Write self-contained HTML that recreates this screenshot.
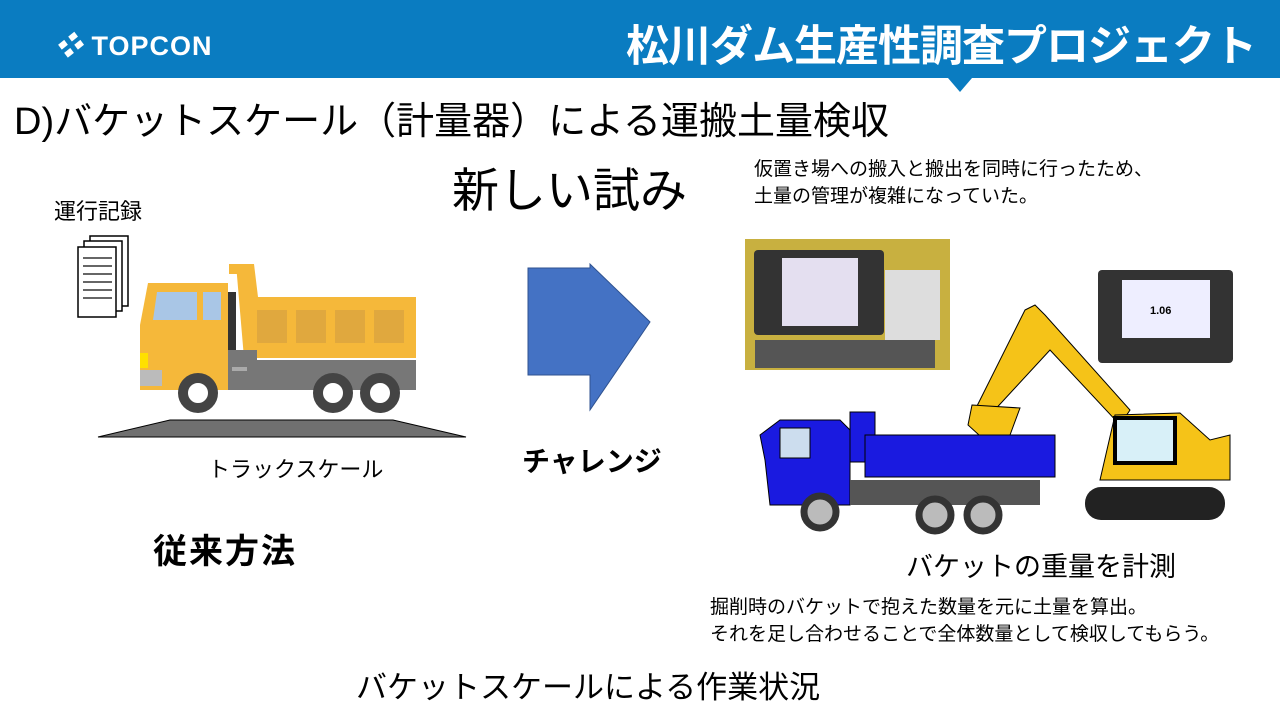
<!DOCTYPE html>
<html><head><meta charset="utf-8"><style>
body{margin:0;width:1280px;height:720px;overflow:hidden;background:#fff;position:relative;font-family:"Liberation Sans","Noto Sans CJK JP",sans-serif;color:#000}
.a{position:absolute;white-space:nowrap}
</style></head><body>
<div class="a" style="left:0;top:0;width:1280px;height:78px;background:#0a7cc1"></div>
<svg class="a" style="left:0;top:0" width="1280" height="100">
<polygon points="948,78 972,78 960,92" fill="#0a7cc1"/>
</svg>
<div class="a" style="left:55px;top:24px;color:#fff;font-size:27px;font-weight:bold;letter-spacing:1px"><span style="font-style:italic">❖</span> TOPCON</div>
<div class="a" style="left:626px;top:12px;color:#fff;font-size:43px;font-weight:bold;letter-spacing:-1px">松川ダム生産性調査プロジェクト</div>
<div class="a" style="left:14px;top:90px;font-size:38px">D)バケットスケール（計量器）による運搬土量検収</div>
<div class="a" style="left:452px;top:152px;font-size:47px">新しい試み</div>
<div class="a" style="left:754px;top:156px;font-size:19px;line-height:27px">仮置き場への搬入と搬出を同時に行ったため、<br>土量の管理が複雑になっていた。</div>
<div class="a" style="left:54px;top:194px;font-size:22px">運行記録</div>
<svg class="a" style="left:0;top:220px" width="700" height="240">
<g fill="#fff" stroke="#000" stroke-width="1.5">
<rect x="90" y="16" width="38" height="70"/><rect x="84" y="21" width="38" height="70"/><rect x="78" y="27" width="38" height="70"/></g>
<g stroke="#333" stroke-width="1.5"><line x1="83" y1="38" x2="112" y2="38"/><line x1="83" y1="46" x2="112" y2="46"/><line x1="83" y1="54" x2="112" y2="54"/><line x1="83" y1="62" x2="112" y2="62"/><line x1="83" y1="70" x2="112" y2="70"/><line x1="83" y1="78" x2="112" y2="78"/></g>
<polygon points="170,200 393,200 466,217 98,217" fill="#707070" stroke="#000"/>
<rect x="229" y="44" width="25" height="10" fill="#f5b83a"/>
<polygon points="236,44 254,44 258,77 416,77 416,68 416,138 244,138" fill="#f5b83a"/>
<rect x="256" y="140" width="160" height="30" fill="#777"/>
<rect x="227" y="130" width="30" height="40" fill="#777"/>
<rect x="228" y="72" width="8" height="58" fill="#333"/>
<path d="M148,63 L228,63 L228,170 L140,170 L140,105 Z" fill="#f5b83a"/>
<polygon points="157,72 197,72 197,100 153,100" fill="#a9c6e6"/>
<rect x="203" y="72" width="18" height="28" fill="#a9c6e6"/>
<rect x="140" y="150" width="22" height="16" fill="#bbb"/>
<rect x="140" y="133" width="8" height="15" fill="#ffe000"/>
<rect x="257" y="90" width="30" height="33" fill="#e0a83e"/><rect x="296" y="90" width="30" height="33" fill="#e0a83e"/><rect x="335" y="90" width="30" height="33" fill="#e0a83e"/><rect x="374" y="90" width="30" height="33" fill="#e0a83e"/>
<rect x="232" y="147" width="15" height="4" fill="#aaa"/>
<g fill="#fff" stroke="#444" stroke-width="10"><circle cx="198" cy="173" r="15"/><circle cx="333" cy="173" r="15"/><circle cx="380" cy="173" r="15"/></g>
<polygon points="528,268 528,375 590,375 590,410 650,322 590,264 590,268" transform="translate(0,-220)" fill="#4472c4" stroke="#2f528f"/>
</svg>
<div class="a" style="left:208px;top:452px;font-size:22px">トラックスケール</div>
<div class="a" style="left:522px;top:440px;font-size:28px;font-weight:bold">チャレンジ</div>
<div class="a" style="left:153px;top:524px;font-size:34px;font-weight:bold;letter-spacing:2px">従来方法</div>
<svg class="a" style="left:740px;top:230px" width="540" height="310">
<rect x="5" y="9" width="205" height="131" fill="#c8b040"/>
<rect x="14" y="20" width="130" height="85" fill="#333" rx="4"/>
<rect x="42" y="28" width="76" height="68" fill="#e4dff0"/>
<rect x="145" y="40" width="55" height="70" fill="#ddd"/>
<rect x="15" y="110" width="180" height="28" fill="#555"/>
<rect x="358" y="40" width="135" height="93" fill="#333" rx="4"/>
<rect x="382" y="50" width="88" height="58" fill="#eef"/>
<text x="410" y="84" font-size="11" font-weight="bold" font-family="Liberation Sans">1.06</text>
<polygon points="285,80 295,75 305,85 390,180 380,195 310,120 250,185 235,180" fill="#f5c318" stroke="#000"/>
<polygon points="232,175 280,178 270,205 250,215 228,195" fill="#f5c318" stroke="#000"/>
<path d="M375,185 L440,183 L470,210 L490,205 L490,250 L360,250 Z" fill="#f5c318" stroke="#000"/>
<rect x="375" y="188" width="60" height="45" fill="#d8f0f8" stroke="#000" stroke-width="4"/>
<rect x="345" y="257" width="140" height="33" rx="16" fill="#222"/>
<rect x="110" y="182" width="25" height="50" fill="#1a1ae0" stroke="#000"/>
<rect x="125" y="205" width="190" height="42" fill="#1a1ae0" stroke="#000"/>
<path d="M20,205 L40,190 L100,190 L110,200 L110,275 L30,275 L25,230 Z" fill="#1a1ae0" stroke="#000"/>
<rect x="40" y="198" width="30" height="30" fill="#cde" stroke="#000"/>
<rect x="110" y="250" width="190" height="25" fill="#555"/>
<g fill="#bbb" stroke="#333" stroke-width="7"><circle cx="80" cy="282" r="16"/><circle cx="195" cy="285" r="16"/><circle cx="243" cy="285" r="16"/></g>
</svg>
<div class="a" style="left:906px;top:545px;font-size:27px">バケットの重量を計測</div>
<div class="a" style="left:710px;top:594px;font-size:19px;line-height:27px">掘削時のバケットで抱えた数量を元に土量を算出。<br>それを足し合わせることで全体数量として検収してもらう。</div>
<div class="a" style="left:356px;top:662px;font-size:31px">バケットスケールによる作業状況</div>
</body></html>
